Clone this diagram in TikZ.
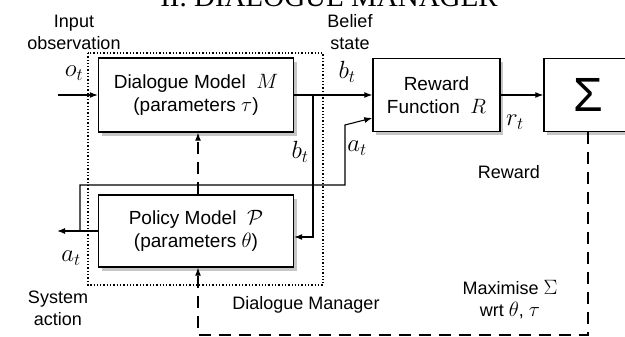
\documentclass[tikz,border=0pt]{standalone}
\usepackage{fontspec}
\setmainfont{Liberation Sans}
\newfontfamily\titlefont{Liberation Serif}
\usetikzlibrary{arrows.meta,shadows,positioning}
\newcommand{\vsym}[1]{{\fontsize{22}{24}\selectfont$#1$}}

\begin{document}
\begin{tikzpicture}[x=1pt,y=-1pt,
        box/.style={draw,line width=1.4pt,fill=white,align=center,
            drop shadow={opacity=0.45,shadow xshift=3pt,shadow yshift=-4pt},
            font=\fontsize{19}{23}\selectfont},
        lbl/.style={align=center,font=\fontsize{18}{22}\selectfont},
        sym/.style={font=\fontsize{25}{27}\selectfont},
        arr/.style={-{Latex[length=8pt,width=6pt]},line width=1.1pt},
        loop/.style={line width=1.2pt,dash pattern=on 12pt off 8pt}]
    \useasboundingbox (0,0) rectangle (625,337);
    \node[font=\titlefont\fontsize{29}{32}\selectfont,anchor=base] (title) at (329,7) {II. DIALOGUE MANAGER};
    \draw[dotted,line width=1.3pt] (88,53) rectangle (323,285);
    \node[box,minimum width=195pt,minimum height=74pt] (dm) at (196,95) {Dialogue Model \ \vsym{M}\\(parameters \vsym{\tau})};
    \node[box,minimum width=195pt,minimum height=72pt] (pm) at (196,231) {Policy Model \ \vsym{\mathcal{P}}\\(parameters \vsym{\theta})};
    \node[box,minimum width=127pt,minimum height=73pt] (rf) at (436.5,95) {Reward\\Function \ \vsym{R}};
    \node[box,minimum width=88pt,minimum height=73pt,font=\fontsize{48}{50}\selectfont] (sig) at (588,95) {Σ};
    \node[lbl] (input) at (74,32) {Input\\observation};
    \node[lbl] (belief) at (350,32) {Belief\\state};
    \node[lbl] (reward) at (509,172) {Reward};
    \node[lbl] (system) at (58,308) {System\\action};
    \node[lbl] (dmlabel) at (306,305) {Dialogue Manager};
    \node[lbl] (maxim) at (510,300) {Maximise \vsym{\Sigma}\\wrt \vsym{\theta}, \vsym{\tau}};
    \node[sym] (ot) at (74,73) {$o_t$};
    \node[sym] (bt) at (347,72) {$b_t$};
    \node[sym] (btret) at (300,152) {$b_t$};
    \node[sym] (at) at (357,148) {$a_t$};
    \node[sym] (atout) at (71,258) {$a_t$};
    \node[sym] (rt) at (515,122) {$r_t$};
    \coordinate (oin) at (58,95);
    \coordinate (bsplit) at (313,95);
    \coordinate (aout) at (57,231);
    \coordinate (asplit) at (80,231);
    \coordinate (aup) at (345,185);
    \coordinate (abend) at (345,125);
    \coordinate (lr) at (588,335);
    \coordinate (ll) at (198,335);
    \draw[arr] (oin) -- (dm);
    \draw[arr] (dm) -- (rf);
    \draw[arr] (bsplit) |- ([yshift=-6pt]pm.east);
    \draw[arr] (pm) -- (aout);
    \draw[arr] (asplit) |- (aup) -- (abend) -- ([yshift=-23pt]rf.west);
    \draw[arr] (rf) -- (sig);
    \draw[loop,arr] (sig.south) -- (lr) -- (ll) -- ([xshift=2pt]pm.south);
    \draw[loop,arr] ([xshift=2pt]pm.north) -- ([xshift=2pt]dm.south);
\end{tikzpicture}
\end{document}
